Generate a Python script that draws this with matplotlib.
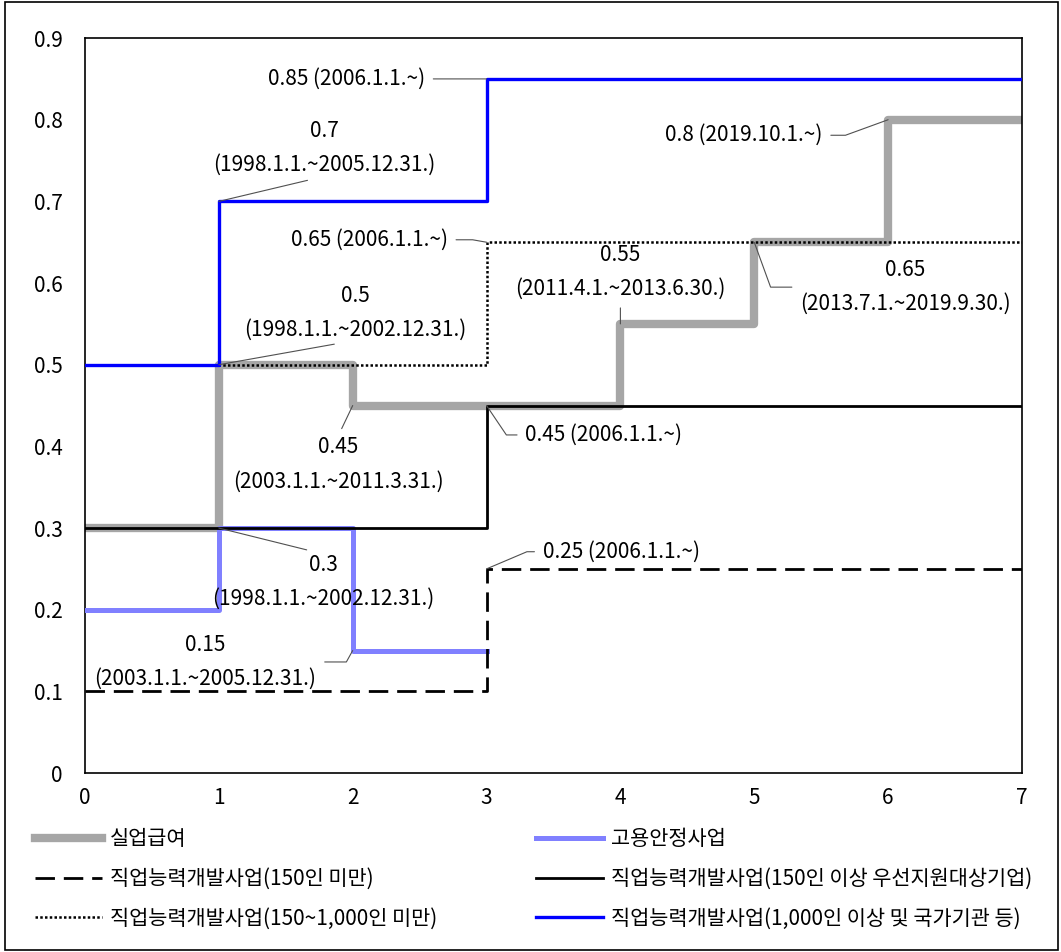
#!/usr/bin/env python3

import matplotlib
matplotlib.use("Agg")
import matplotlib.pyplot as plt
from matplotlib.patches import Rectangle

plt.rcParams["font.family"] = ["Noto Sans CJK KR", "DejaVu Sans"]
plt.rcParams["font.size"] = 15

# step series (value holds until the next x)
benefit_x = [0, 1, 2, 3, 4, 5, 6, 7]
benefit_y = [0.3, 0.5, 0.45, 0.45, 0.55, 0.65, 0.8, 0.8]
stab_x = [0, 1, 2, 3]
stab_y = [0.2, 0.3, 0.15, 0.15]
small_x = [0, 3, 7]
small_y = [0.1, 0.25, 0.25]
prio_x = [0, 3, 7]
prio_y = [0.3, 0.45, 0.45]
mid_x = [0, 3, 7]
mid_y = [0.5, 0.65, 0.65]
large_x = [0, 1, 3, 7]
large_y = [0.5, 0.7, 0.85, 0.85]

labels = ["실업급여", "고용안정사업", "직업능력개발사업(150인 미만)",
          "직업능력개발사업(150인 이상 우선지원대상기업)",
          "직업능력개발사업(150~1,000인 미만)",
          "직업능력개발사업(1,000인 이상 및 국가기관 등)"]

# annotations: text, target point, text position, alignment, leader start, connection
notes = [
    ("0.85 (2006.1.1.~)", (3, 0.85), (2.54, 0.85), "right", (1, 0.5), "arc3"),
    ("0.7\n(1998.1.1.~2005.12.31.)", (1, 0.7), (1.79, 0.765), "center", (0.5, 0), "arc3"),
    ("0.65 (2006.1.1.~)", (3, 0.65), (2.71, 0.653), "right", (1, 0.5), "angle,angleA=0,angleB=-10,rad=0"),
    ("0.5\n(1998.1.1.~2002.12.31.)", (1, 0.5), (2.02, 0.564), "center", (0.5, 0), "arc3"),
    ("0.45\n(2003.1.1.~2011.3.31.)", (2, 0.45), (1.89, 0.378), "center", (0.5, 1), "arc3"),
    ("0.3\n(1998.1.1.~2002.12.31.)", (1, 0.3), (1.78, 0.234), "center", (0.5, 1), "arc3"),
    ("0.15\n(2003.1.1.~2005.12.31.)", (2, 0.15), (0.90, 0.136), "center", (1, 0.5), "angle,angleA=0,angleB=61,rad=0"),
    ("0.45 (2006.1.1.~)", (3, 0.45), (3.29, 0.414), "left", (0, 0.5), "angle,angleA=0,angleB=124,rad=0"),
    ("0.25 (2006.1.1.~)", (3, 0.25), (3.42, 0.271), "left", (0, 0.5), "angle,angleA=0,angleB=23,rad=0"),
    ("0.55\n(2011.4.1.~2013.6.30.)", (4, 0.55), (4.0, 0.614), "center", (0.5, 0), "arc3"),
    ("0.65\n(2013.7.1.~2019.9.30.)", (5, 0.65), (6.13, 0.595), "center", (0, 0.5), "angle,angleA=0,angleB=110,rad=0"),
    ("0.8 (2019.10.1.~)", (6, 0.8), (5.51, 0.781), "right", (1, 0.5), "angle,angleA=0,angleB=20,rad=0"),
]

fig = plt.figure(figsize=(10.61, 9.52), dpi=100)
ax = fig.add_axes([0.0801, 0.188, 0.8831, 0.772])

h1, = ax.step(benefit_x, benefit_y, where="post", color="#a6a6a6", lw=6, zorder=2, label=labels[0])
h2, = ax.step(stab_x, stab_y, where="post", color="#8080ff", lw=3.6, zorder=3, label=labels[1])
h3, = ax.step(small_x, small_y, where="post", color="black", lw=2, zorder=4,
              dashes=(7, 3.2), label=labels[2])
h4, = ax.step(prio_x, prio_y, where="post", color="black", lw=2, zorder=4, label=labels[3])
h5, = ax.step(mid_x, mid_y, where="post", color="black", lw=1.8, zorder=4,
              dashes=(1, 0.9), label=labels[4])
h6, = ax.step(large_x, large_y, where="post", color="#0000ff", lw=2.4, zorder=5, label=labels[5])

for txt, xy, xyt, ha, rel, conn in notes:
    ax.annotate(txt, xy=xy, xytext=xyt, ha=ha, va="center", ma="center",
                linespacing=1.7, fontsize=15, zorder=6,
                arrowprops=dict(arrowstyle="-", color="#505050", lw=0.8,
                                relpos=rel, connectionstyle=conn,
                                shrinkA=4, shrinkB=0))

ax.set_xlim(0, 7)
ax.set_ylim(0, 0.9)
ax.set_xticks(range(8))
ax.set_yticks([0, 0.1, 0.2, 0.3, 0.4, 0.5, 0.6, 0.7, 0.8, 0.9])
ax.set_yticklabels(["0", "0.1", "0.2", "0.3", "0.4", "0.5", "0.6", "0.7", "0.8", "0.9"])
ax.tick_params(length=0, labelsize=15)
ax.tick_params(axis="y", pad=16)
ax.tick_params(axis="x", pad=10)
for s in ax.spines.values():
    s.set_linewidth(1.2)
    s.set_color("black")

fig.legend([h1, h3, h5, h2, h4, h6],
           [labels[0], labels[2], labels[4], labels[1], labels[3], labels[5]],
           loc="upper left", bbox_to_anchor=(0.033, 0.0, 0.94, 0.130),
           mode="expand", ncol=2, frameon=False, fontsize=15,
           handlelength=3.2, handletextpad=0.4, labelspacing=0.85,
           borderpad=0, borderaxespad=0)

fig.patches.append(Rectangle((0.005, 0.002), 0.992, 0.996, transform=fig.transFigure,
                             fill=False, edgecolor="black", lw=1.2))

plt.savefig("out.png")
